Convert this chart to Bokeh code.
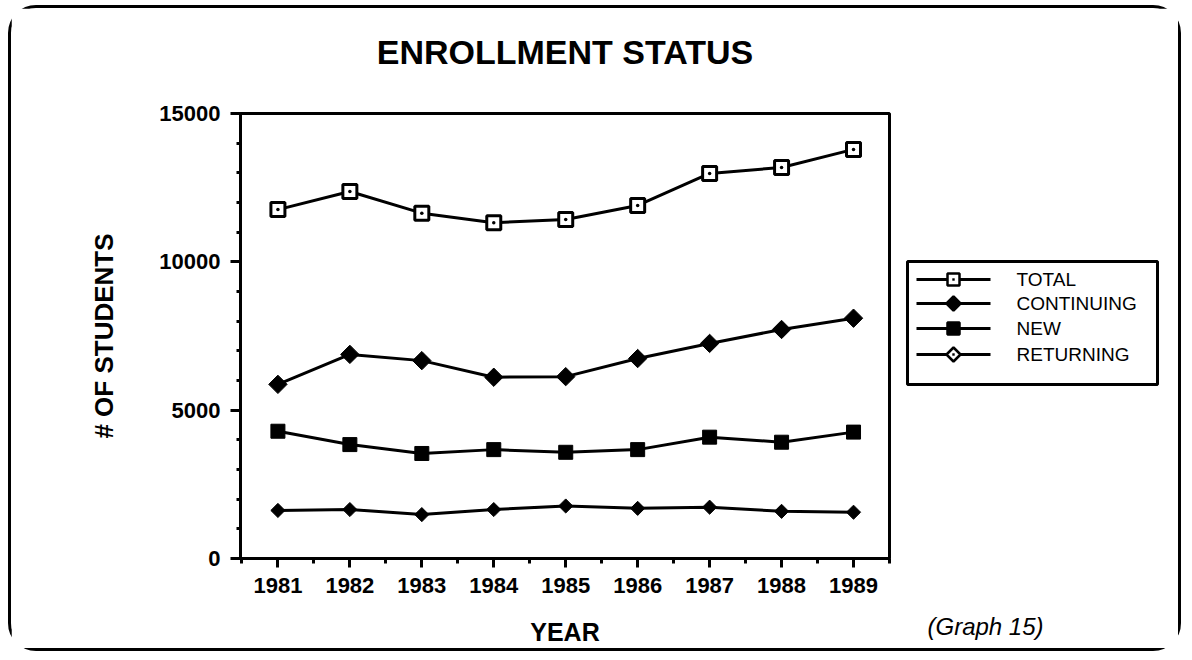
import math
from bokeh.plotting import figure
from bokeh.models import Range1d, FixedTicker
from bokeh.core.properties import value
from bokeh.embed import file_html
from bokeh.resources import INLINE

# ---- data ----
years = [1981, 1982, 1983, 1984, 1985, 1986, 1987, 1988, 1989]
total = [11760, 12370, 11640, 11320, 11430, 11900, 12980, 13180, 13790]
continuing = [5870, 6880, 6670, 6110, 6130, 6740, 7250, 7720, 8100]
new = [4290, 3840, 3540, 3670, 3580, 3670, 4090, 3920, 4260]
returning = [1620, 1650, 1480, 1650, 1770, 1690, 1730, 1590, 1560]
series_names = ["TOTAL", "CONTINUING", "NEW", "RETURNING"]
y_ticks = [0, 5000, 10000, 15000]
y_minor = list(range(0, 15001, 1000))
x_minor = [y - 0.5 for y in years] + [years[-1] + 0.5]
title_text = ["ENROLLMENT STATUS"]
note_text = ["(Graph 15)"]

FONT = "Liberation Sans"
X0, X1 = 1980.48, 1989.5
Y0, Y1 = 0, 15000

# frame position on the page (px) -- used to place decorations outside the frame
FX0, FX1, FY0, FY1 = 240, 889, 113, 558


def dx(px):
    return X0 + (px - FX0) * (X1 - X0) / (FX1 - FX0)


def dy(py):
    return Y0 + (FY1 - py) * (Y1 - Y0) / (FY1 - FY0)


p = figure(width=1173, height=646, output_backend="svg", toolbar_location=None,
           x_range=Range1d(X0, X1), y_range=Range1d(Y0, Y1),
           min_border_left=229, min_border_right=295, min_border_top=105,
           min_border_bottom=96)
p.styles = {"border": "3px solid black", "border-radius": "28px",
            "margin-left": "8px", "margin-top": "5px"}

p.grid.visible = False
p.outline_line_color = "black"
p.outline_line_width = 3
p.background_fill_color = "white"
p.border_fill_color = "white"

for ax in (p.xaxis[0], p.yaxis[0]):
    ax.axis_line_width = 3
    ax.axis_line_color = "black"
    ax.major_tick_line_width = 3
    ax.minor_tick_line_width = 3
    ax.major_tick_in = 0
    ax.minor_tick_in = 0
    ax.major_label_text_font = FONT
    ax.major_label_text_font_size = "22px"
    ax.major_label_text_font_style = "bold"
    ax.major_label_text_color = "black"
    ax.axis_label_text_font = FONT
    ax.axis_label_text_font_style = "bold"
    ax.axis_label_text_color = "black"

p.xaxis.ticker = FixedTicker(ticks=years, minor_ticks=x_minor)
p.xaxis.major_tick_out = 9
p.xaxis.minor_tick_out = 5
p.xaxis.major_label_standoff = 10
p.xaxis.axis_label = "YEAR"
p.xaxis.axis_label_text_font_size = "25px"
p.xaxis.axis_label_standoff = 22

p.yaxis.ticker = FixedTicker(ticks=y_ticks, minor_ticks=y_minor)
p.yaxis.major_tick_out = 10
p.yaxis.minor_tick_out = 4
p.yaxis.major_label_standoff = 10
p.yaxis.axis_label = "# OF STUDENTS"
p.yaxis.axis_label_text_font_size = "26px"
p.yaxis.axis_label_standoff = 37

LW = 3
D45 = math.pi / 4
styles = [
    dict(marker="square_dot", size=14, fill_color="white", line_width=3, angle=0),
    dict(marker="square", size=13, fill_color="black", line_width=1, angle=D45),
    dict(marker="square", size=14, fill_color="black", line_width=1, angle=0),
    dict(marker="square", size=10, fill_color="black", line_width=1, angle=D45),
]

for vals, st in zip([total, continuing, new, returning], styles):
    p.line(years, vals, line_color="black", line_width=LW)
    p.scatter(years, vals, line_color="black", **st)

# ---- legend (drawn outside the frame, in page-pixel layout) ----
p.quad(left=[dx(907)], right=[dx(1157)], top=[dy(261)], bottom=[dy(384)],
       fill_color="white", line_color="black", line_width=3, level="overlay")
row_y = [279, 303, 328, 354]
# (shape, fill, half-size px, centre dot)
legend_marks = [("square", "white", 6, True), ("diamond", "black", 7, False),
                ("square", "black", 6, False), ("diamond", "white", 7, True)]
MX = 953
for name, ry, (shape, fill, h, dot) in zip(series_names, row_y, legend_marks):
    p.line([dx(916), dx(990)], [dy(ry), dy(ry)], line_color="black", line_width=3,
           level="overlay")
    if shape == "square":
        p.quad(left=[dx(MX - h)], right=[dx(MX + h)], top=[dy(ry - h)],
               bottom=[dy(ry + h)], fill_color=fill, line_color="black",
               line_width=2.5, level="overlay")
    else:
        p.patch([dx(MX - h), dx(MX), dx(MX + h), dx(MX)],
                [dy(ry), dy(ry - h), dy(ry), dy(ry + h)], fill_color=fill,
                line_color="black", line_width=2.5, level="overlay")
    if dot:
        p.quad(left=[dx(MX - 1.2)], right=[dx(MX + 1.2)], top=[dy(ry - 1.2)],
               bottom=[dy(ry + 1.2)], fill_color="black", line_color=None,
               level="overlay")
    p.text(x=[dx(1016)], y=[dy(ry)], text=[name], text_font=value(FONT),
           text_font_size="19px", text_align="left", text_baseline="middle",
           text_color="black", level="overlay")

# title, drawn above the frame
p.text(x=[(X0 + X1) / 2], y=[dy(51)], text=title_text, text_font=value(FONT),
       text_font_size="34px", text_font_style="bold", text_align="center",
       text_baseline="middle", text_color="black", level="overlay")

# note at bottom right
p.text(x=[dx(985)], y=[dy(626)], text=note_text, text_font=value(FONT),
       text_font_size="24px", text_font_style="italic", text_align="center",
       text_baseline="middle", text_color="black", level="overlay")

open("out.html", "w").write(file_html(p, INLINE))
